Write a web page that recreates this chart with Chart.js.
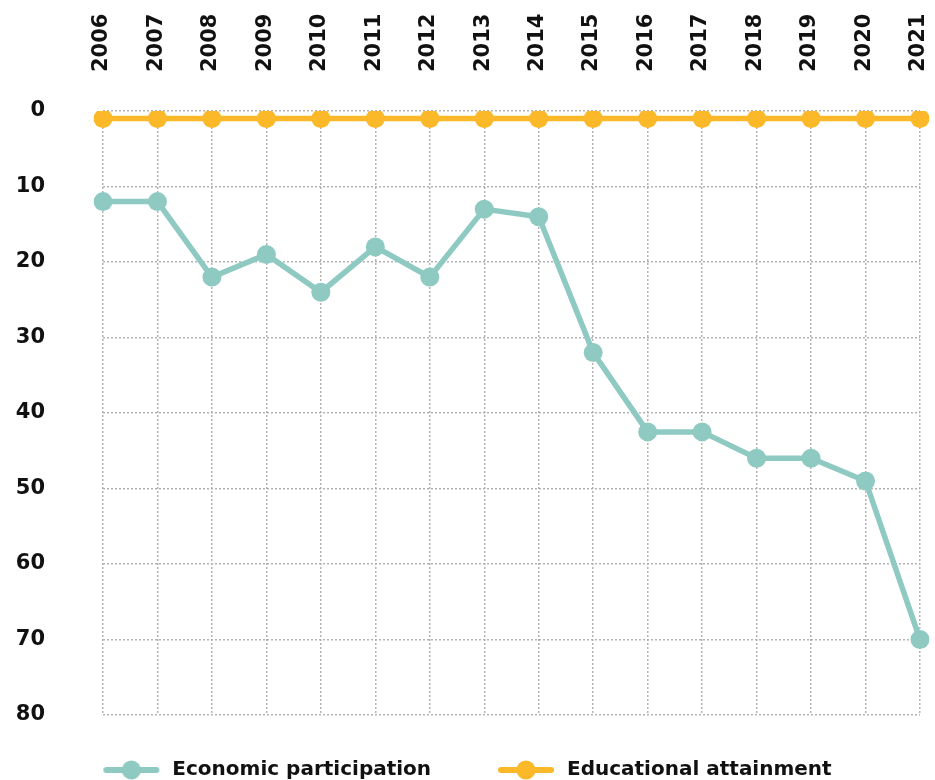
<!DOCTYPE html>
<html>
<head>
<meta charset="utf-8">
<script src="https://cdn.jsdelivr.net/npm/chart.js@4.4.0/dist/chart.umd.min.js"></script>
<style>
  html, body { margin: 0; padding: 0; background: #fff; overflow: hidden; }
  canvas { display: block; }
</style>
</head>
<body>
<canvas id="rankChart" width="935" height="790"></canvas>
<script>
const years = ['2006', '2007', '2008', '2009', '2010', '2011', '2012', '2013',
               '2014', '2015', '2016', '2017', '2018', '2019', '2020', '2021'];
const economicParticipation = [12, 12, 22, 19, 24, 18, 22, 13, 14, 32, 42.5, 42.5, 46, 46, 49, 70];
const educationalAttainment = [1, 1, 1, 1, 1, 1, 1, 1, 1, 1, 1, 1, 1, 1, 1, 1];
const rankTicks = [0, 10, 20, 30, 40, 50, 60, 70, 80];

const TEAL = '#8ecac2';
const ORANGE = '#fbb829';
const FONT = '"DejaVu Sans", sans-serif';

// legend icon: short line with a dot in the middle
function legendIcon(color) {
    const c = document.createElement('canvas');
    c.width = 60;
    c.height = 22;
    const g = c.getContext('2d');
    g.strokeStyle = color;
    g.lineWidth = 6;
    g.lineCap = 'round';
    g.beginPath();
    g.moveTo(4, 11);
    g.lineTo(54, 11);
    g.stroke();
    g.fillStyle = color;
    g.beginPath();
    g.arc(29, 11, 9.5, 0, Math.PI * 2);
    g.fill();
    return c;
}
const icons = [legendIcon(TEAL), legendIcon(ORANGE)];

const ctx = document.getElementById('rankChart').getContext('2d');
new Chart(ctx, {
    type: 'line',
    data: {
        labels: years,
        datasets: [{
            label: 'Economic participation',
            data: economicParticipation,
            borderColor: TEAL,
            backgroundColor: TEAL,
            borderWidth: 5.5,
            pointRadius: 9.5,
            pointHoverRadius: 9.5,
            pointBorderWidth: 0,
            tension: 0
        }, {
            label: 'Educational attainment',
            data: educationalAttainment,
            borderColor: ORANGE,
            backgroundColor: ORANGE,
            borderWidth: 5.5,
            pointRadius: 9.5,
            pointHoverRadius: 9.5,
            pointBorderWidth: 0,
            tension: 0
        }]
    },
    options: {
        responsive: false,
        devicePixelRatio: 1,
        animation: false,
        layout: { padding: { top: 0, right: 15, bottom: 0, left: 14 } },
        plugins: {
            tooltip: { enabled: false },
            legend: {
                position: 'bottom',
                labels: {
                    usePointStyle: true,
                    pointStyleWidth: 60,
                    padding: 45,
                    color: '#111',
                    font: { family: FONT, size: 20, weight: 'bold' },
                    // extra spaces after the first label widen the gap between items
                    generateLabels: (chart) => chart.data.datasets.map((ds, i) => ({
                        text: i === 0 ? ds.label + '   ' : ds.label,
                        pointStyle: icons[i],
                        fillStyle: ds.borderColor,
                        strokeStyle: ds.borderColor,
                        lineWidth: 0,
                        hidden: false,
                        datasetIndex: i,
                        fontColor: '#111'
                    }))
                }
            }
        },
        scales: {
            x: {
                position: 'top',
                offset: false,
                border: { display: false, dash: [2, 2] },
                grid: { color: '#b3b3b3', lineWidth: 1.5, drawTicks: false },
                ticks: {
                    color: '#111',
                    padding: 39,
                    labelOffset: 24,
                    minRotation: 90,
                    maxRotation: 90,
                    autoSkip: false,
                    font: { family: FONT, size: 21, weight: 'bold' }
                },
                afterFit: (scale) => {
                    scale.height = 111;
                    scale.paddingLeft = 0;
                    scale.paddingRight = 0;
                }
            },
            y: {
                reverse: true,
                min: 0,
                max: 80,
                border: { display: false, dash: [2, 2] },
                grid: { color: '#b3b3b3', lineWidth: 1.5, drawTicks: false },
                afterBuildTicks: (scale) => { scale.ticks = rankTicks.map(v => ({ value: v })); },
                ticks: {
                    color: '#111',
                    padding: 58,
                    font: { family: FONT, size: 21, weight: 'bold' }
                },
                afterFit: (scale) => { scale.width = 89; }
            }
        }
    }
});
</script>
</body>
</html>
